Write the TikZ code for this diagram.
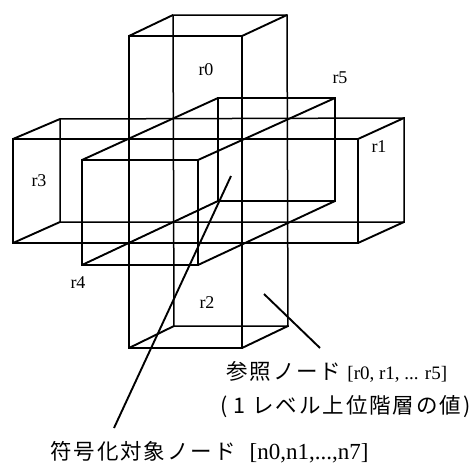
\documentclass[tikz,border=0pt]{standalone}
\usepackage{fontspec}
\setmainfont{Liberation Serif}
\newfontfamily\cjk[LetterSpace=9]{Noto Sans CJK JP}
\tikzset{
  edge/.style={line width=1.5pt},
  depth/.style={line width=1.9pt},
  leader/.style={line width=1.9pt},
  tag/.style={inner sep=0pt, font=\fontsize{18}{20}\selectfont},
  caption/.style={inner sep=0pt, anchor=west, font=\fontsize{21.5}{24}\selectfont},
}
\begin{document}
\begin{tikzpicture}[x=1pt,y=-1pt]
\useasboundingbox (0,0) rectangle (472,463);
% vertical box
\coordinate (a1) at (129,36);
\coordinate (a2) at (242,36);
\coordinate (a3) at (242,348);
\coordinate (a4) at (129,348);
\coordinate (a5) at (173,15);
\coordinate (a6) at (287,15);
\coordinate (a7) at (288,326);
\coordinate (a8) at (174,326);
\draw[edge] (a1) -- (a2) -- (a3) -- (a4) -- cycle;
\draw[edge] (a5) -- (a6) -- (a7) -- (a8) -- cycle;
\draw[depth] (a1) -- (a5);
\draw[depth] (a2) -- (a6);
\draw[depth] (a3) -- (a7);
\draw[depth] (a4) -- (a8);
% horizontal box
\coordinate (b1) at (13,139);
\coordinate (b2) at (358,139);
\coordinate (b3) at (358,243);
\coordinate (b4) at (13,243);
\coordinate (b5) at (60,119);
\coordinate (b6) at (404,118);
\coordinate (b7) at (404,222);
\coordinate (b8) at (60,222);
\draw[edge] (b1) -- (b2) -- (b3) -- (b4) -- cycle;
\draw[edge] (b5) -- (b6) -- (b7) -- (b8) -- cycle;
\draw[depth] (b1) -- (b5);
\draw[depth] (b2) -- (b6);
\draw[depth] (b3) -- (b7);
\draw[depth] (b4) -- (b8);
% box running front to back
\coordinate (c1) at (82,160);
\coordinate (c2) at (198,160);
\coordinate (c3) at (198,265);
\coordinate (c4) at (82,265);
\coordinate (c5) at (218,98);
\coordinate (c6) at (335,98);
\coordinate (c7) at (335,201);
\coordinate (c8) at (218,201);
\draw[edge] (c1) -- (c2) -- (c3) -- (c4) -- cycle;
\draw[edge] (c5) -- (c6) -- (c7) -- (c8) -- cycle;
\draw[depth] (c1) -- (c5);
\draw[depth] (c2) -- (c6);
\draw[depth] (c3) -- (c7);
\draw[depth] (c4) -- (c8);
% labels
\node[tag] (r0) at (206,70) {r0};
\node[tag] (r1) at (379,147) {r1};
\node[tag] (r2) at (207,303) {r2};
\node[tag] (r3) at (39,181) {r3};
\node[tag] (r4) at (78,283) {r4};
\node[tag] (r5) at (340,78) {r5};
\node[caption] (ref) at (226,372) {\cjk 参照ノード\hspace{6pt}\normalfont\fontsize{19}{21}\selectfont [r0, r1, ... r5]};
\node[caption] (lvl) at (220,407) {\cjk (\hspace{6pt}1\hspace{7pt}レベル上位階層の値)};
\node[caption] (cur) at (50,452) {\cjk 符号化対象ノード\hspace{14pt}\normalfont\fontsize{23}{25}\selectfont[n0,n1,...,n7]};
% leaders
\coordinate (p1) at (264,294);
\coordinate (p2) at (320,348);
\coordinate (q1) at (231,176);
\coordinate (q2) at (114,428);
\draw[leader] (p1) -- (p2);
\draw[leader] (q1) -- (q2);
\end{tikzpicture}
\end{document}
